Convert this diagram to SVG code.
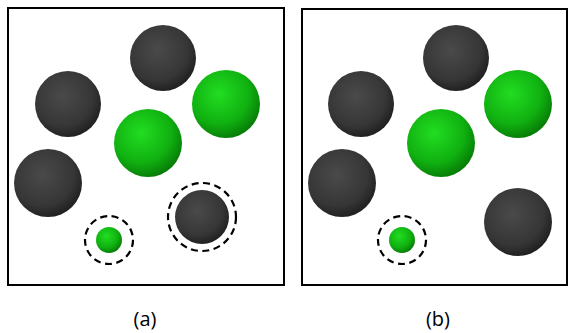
<svg xmlns="http://www.w3.org/2000/svg" width="568" height="333" viewBox="0 0 568 333">
<defs>
<radialGradient id="gDark" cx="0.42" cy="0.38" r="0.65">
<stop offset="0" stop-color="#4a4a4a"/>
<stop offset="0.7" stop-color="#363636"/>
<stop offset="1" stop-color="#1e1e1e"/>
</radialGradient>
<radialGradient id="gGreen" cx="0.4" cy="0.35" r="0.68">
<stop offset="0" stop-color="#22dd22"/>
<stop offset="0.65" stop-color="#10b010"/>
<stop offset="1" stop-color="#067a06"/>
</radialGradient>
<style>
.frame{fill:#ffffff;stroke:#000;stroke-width:2}
.dark{fill:url(#gDark)}
.green{fill:url(#gGreen)}
.ring{fill:none;stroke:#000;stroke-width:2.2;stroke-dasharray:7 4.5}
.lbl{font-family:"Open Sans","Liberation Sans",sans-serif;font-size:20px;fill:#000;text-anchor:middle}
</style>
</defs>
<g id="panel-a">
<rect class="frame" x="8" y="8" width="276" height="277"/>
<circle class="dark" cx="163" cy="58" r="33"/>
<circle class="dark" cx="68" cy="104" r="33"/>
<circle class="green" cx="226" cy="104" r="34"/>
<circle class="green" cx="148" cy="143" r="34"/>
<circle class="dark" cx="48" cy="183" r="34"/>
<circle class="green" cx="109" cy="240" r="13"/>
<circle class="ring" cx="109" cy="240" r="24"/>
<circle class="dark" cx="202" cy="217" r="27"/>
<circle class="ring" cx="202" cy="217" r="34"/>
<text class="lbl" x="145" y="326">(a)</text>
</g>
<g id="panel-b">
<rect class="frame" x="302" y="9" width="265" height="276"/>
<circle class="dark" cx="456" cy="58" r="33"/>
<circle class="dark" cx="361" cy="104" r="33"/>
<circle class="green" cx="518" cy="104" r="34"/>
<circle class="green" cx="441" cy="143" r="34"/>
<circle class="dark" cx="342" cy="183" r="34"/>
<circle class="green" cx="402" cy="240" r="13"/>
<circle class="ring" cx="402" cy="240" r="24"/>
<circle class="dark" cx="518" cy="222" r="34"/>
<text class="lbl" x="438" y="326">(b)</text>
</g>
<g id="connectors"/>
</svg>
